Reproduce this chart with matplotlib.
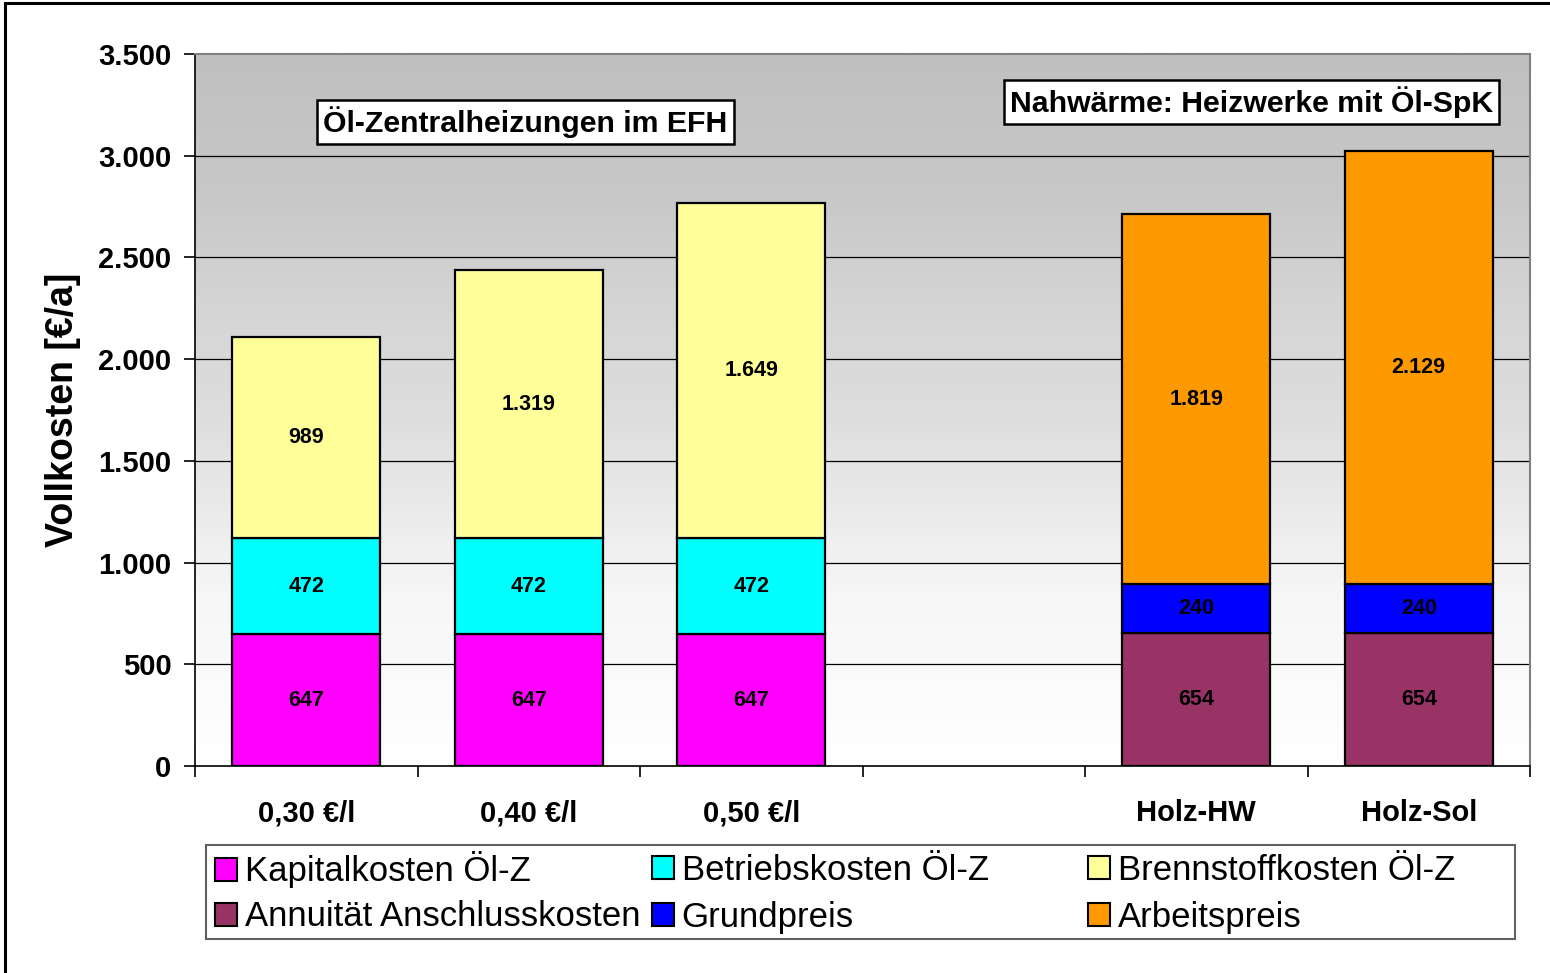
import numpy as np
import matplotlib
matplotlib.use("Agg")
import matplotlib.pyplot as plt
from matplotlib.colors import LinearSegmentedColormap
from matplotlib.patches import Rectangle
from matplotlib.lines import Line2D

plt.rcParams['font.family'] = ['Liberation Sans', 'DejaVu Sans']

# ---- data ----
categories = ["0,30 €/l", "0,40 €/l", "0,50 €/l", "", "Holz-HW", "Holz-Sol"]
oel_slots = [0, 1, 2]
holz_slots = [4, 5]
kapital = [647, 647, 647]
betrieb = [472, 472, 472]
brennstoff = [989, 1319, 1649]
annuitaet = [654, 654]
grundpreis = [240, 240]
arbeitspreis = [1819, 2129]
yticks = [0, 500, 1000, 1500, 2000, 2500, 3000, 3500]

labels_oel = ["Kapitalkosten Öl-Z", "Betriebskosten Öl-Z", "Brennstoffkosten Öl-Z"]
labels_holz = ["Annuität Anschlusskosten", "Grundpreis", "Arbeitspreis"]
colors_oel = ["#FF00FF", "#00FFFF", "#FFFF99"]
colors_holz = ["#993366", "#0000FF", "#FF9900"]


def de(v):
    return f"{v:,.0f}".replace(",", ".")


W, H = 1550, 973
fig = plt.figure(figsize=(W / 100, H / 100), dpi=100)
ax = fig.add_axes([195 / W, 1 - 766 / H, (1530 - 195) / W, (766 - 54) / H])

# gradient background
cmap = LinearSegmentedColormap.from_list(
    "bg",
    [(0.0, (1, 1, 1)), (0.233, (247/255,) * 3), (0.486, (222/255,) * 3),
     (0.655, (212/255,) * 3), (0.8, (200/255,) * 3), (1.0, (192/255,) * 3)])
grad = np.linspace(0, 1, 512).reshape(-1, 1)
ax.imshow(grad, aspect='auto', cmap=cmap, origin='lower',
          extent=[-0.5, 5.5, 0, 3500], zorder=0)

ax.set_xlim(-0.5, 5.5)
ax.set_ylim(0, 3500)

for y in yticks[1:-1]:
    ax.axhline(y, color='black', lw=0.9, zorder=1)

bw = 2 / 3
ekw = dict(edgecolor='black', linewidth=1.6, zorder=3)
bottom = np.zeros(len(oel_slots))
handles = {}
for vals, c, lab in zip([kapital, betrieb, brennstoff], colors_oel, labels_oel):
    cont = ax.bar(oel_slots, vals, bw, bottom=bottom, color=c, label=lab, **ekw)
    ax.bar_label(cont, labels=[de(v) for v in vals], label_type='center',
                 fontsize=15.5, fontweight='bold', zorder=4)
    bottom += np.array(vals)
    handles[lab] = cont
bottom = np.zeros(len(holz_slots))
for vals, c, lab in zip([annuitaet, grundpreis, arbeitspreis], colors_holz, labels_holz):
    cont = ax.bar(holz_slots, vals, bw, bottom=bottom, color=c, label=lab, **ekw)
    ax.bar_label(cont, labels=[de(v) for v in vals], label_type='center',
                 fontsize=15.5, fontweight='bold', zorder=4)
    bottom += np.array(vals)
    handles[lab] = cont

# axes styling
for s in ['top', 'right']:
    ax.spines[s].set_color('#808080')
    ax.spines[s].set_linewidth(1.5)
for s in ['left', 'bottom']:
    ax.spines[s].set_color('black')
    ax.spines[s].set_linewidth(1.2)

ax.set_yticks(yticks)
ax.set_yticklabels([de(v) for v in yticks], fontsize=21, fontweight='bold')
ax.tick_params(axis='y', direction='out', length=8, width=1.2, pad=9)

ax.set_xticks(np.arange(-0.5, 6, 1.0))
ax.set_xticklabels([])
ax.tick_params(axis='x', which='major', direction='out', length=8, width=1.2)
ax.set_xticks(np.arange(len(categories)), minor=True)
ax.set_xticklabels(categories, minor=True, fontsize=21, fontweight='bold')
ax.tick_params(axis='x', which='minor', length=0, pad=24)

ax.set_ylabel("Vollkosten [€/a]", fontsize=27, fontweight='bold', labelpad=12)

# text boxes
bbox = dict(boxstyle='square,pad=0.2', facecolor='white', edgecolor='black', linewidth=1.8)
ax.text(0.2475, 0.9045, "Öl-Zentralheizungen im EFH", transform=ax.transAxes,
        ha='center', va='center', fontsize=21.8, fontweight='bold', bbox=bbox, zorder=5)
ax.text(0.7915, 0.9326, "Nahwärme: Heizwerke mit Öl-SpK", transform=ax.transAxes,
        ha='center', va='center', fontsize=21.8, fontweight='bold', bbox=bbox, zorder=5)

# legend frame
fig.patches.append(Rectangle((206 / W, 1 - 939 / H), (1515 - 206) / W, (939 - 845) / H,
                             transform=fig.transFigure, facecolor='white',
                             edgecolor='#606060', linewidth=1.5, zorder=0))
col_x = [215, 652, 1088]
row_y = [870, 917]
rows = [labels_oel, labels_holz]
for r, labs in enumerate(rows):
    for c, lab in enumerate(labs):
        lg = fig.legend([handles[lab]], [lab], loc='center left',
                        bbox_to_anchor=(col_x[c] / W, 1 - row_y[r] / H),
                        frameon=False, fontsize=25, handlelength=0.63,
                        handleheight=0.63, handletextpad=0.22, borderpad=0,
                        borderaxespad=0)
        for p in lg.get_patches():
            p.set_linewidth(1.5)

# outer frame
fig.add_artist(Line2D([5 / W, 5 / W], [0, 1 - 3 / H], transform=fig.transFigure,
                      color='black', lw=2.2))
fig.add_artist(Line2D([5 / W, 1], [1 - 3 / H, 1 - 3 / H], transform=fig.transFigure,
                      color='black', lw=2.2))

fig.savefig("out.png", dpi=100)
